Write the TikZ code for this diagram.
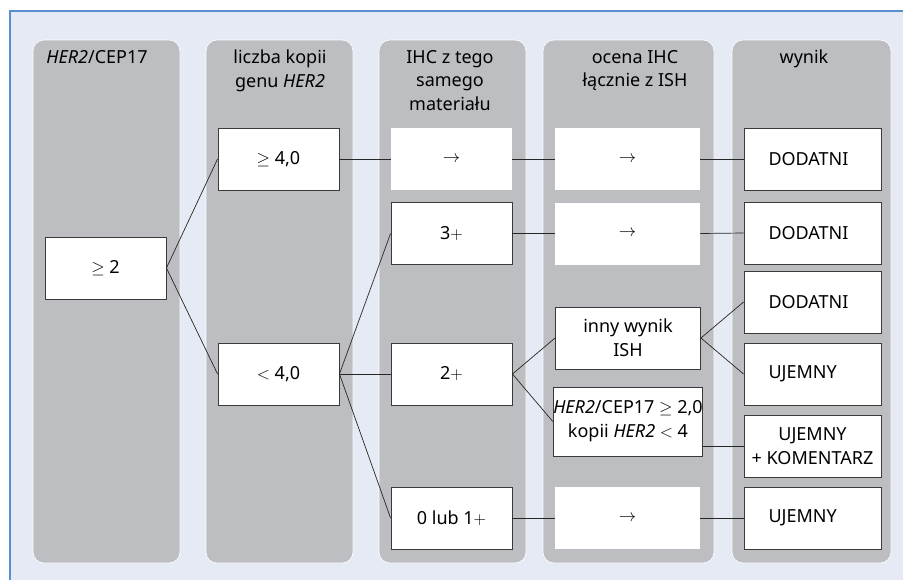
\documentclass[tikz,border=0pt]{standalone}
\usepackage{fontspec}
\setmainfont{Noto Sans}
\definecolor{panel}{HTML}{E6EAF5}
\definecolor{frameblue}{HTML}{5B8FD0}
\definecolor{colgray}{HTML}{BDBEC2}
\definecolor{boxline}{HTML}{3A3A3A}
\begin{document}
\begin{tikzpicture}[x=1pt,y=-1pt,
  column/.style={fill=colgray, draw=white, line width=0.6pt, rounded corners=11pt},
  head/.style={align=center, inner sep=0pt, font=\fontsize{18}{23.5}\selectfont},
  box/.style={draw=boxline, fill=white, line width=0.9pt, minimum height=62pt,
              inner sep=0pt, align=center, font=\fontsize{18}{24}\selectfont},
  plainbox/.style={box, draw=none},
  cbox/.style={box, minimum width=121pt},
  dbox/.style={box, minimum width=145pt},
  rbox/.style={box, minimum width=137pt},
  rlbox/.style={rbox, text width=88pt, align=flush left},
  link/.style={draw=black!85, line width=0.7pt}]
\useasboundingbox (0,0) rectangle (903,579);

% panel with blue rule on the left and top
\fill[panel] (10,11) rectangle (910,590);
\draw[frameblue, line width=1.3pt] (10,590) -- (10,11) -- (910,11);

% column backgrounds
\path[column] (33,40) rectangle (180,563);
\path[column] (206,40) rectangle (353,563);
\path[column] (379,40) rectangle (526,563);
\path[column] (543,40) rectangle (714,563);
\path[column] (732,40) rectangle (891,563);

% column headings
\node[head, anchor=north] (h1) at (97,50) {\textit{HER2}/CEP17};
\node[head, anchor=north] (h2) at (280,50) {liczba kopii\\genu \textit{HER2}};
\node[head, anchor=north] (h3) at (450,50) {IHC z tego\\samego\\materiału};
\node[head, anchor=north] (h4) at (635,50) {ocena IHC\\łącznie z ISH};
\node[head, anchor=north] (h5) at (804,50) {wynik};

% column 1
\node[cbox] (r) at (105.5,268) {$\geq$ 2};

% column 2
\node[cbox] (hi) at (278.5,159) {$\geq$ 4,0};
\node[cbox] (lo) at (278.5,374) {$<$ 4,0};

% column 3
\node[plainbox, minimum width=121pt] (c3a) at (451.5,159) {$\rightarrow$};
\node[cbox] (c3b) at (451.5,233.5) {3$+$};
\node[cbox] (c3c) at (451.5,374) {2$+$};
\node[cbox] (c3d) at (451.5,518) {0 lub 1$+$};

% column 4
\node[plainbox, minimum width=145pt] (c4a) at (627.5,159) {$\rightarrow$};
\node[plainbox, minimum width=145pt] (c4b) at (627.5,233.5) {$\rightarrow$};
\node[dbox] (c4c) at (628,338) {inny wynik\\ISH};
\node[dbox, minimum height=69pt] (c4d) at (628,421.5) {\textit{HER2}/CEP17 $\geq$ 2,0\\kopii \textit{HER2} $<$ 4};
\node[plainbox, minimum width=145pt] (c4e) at (627.5,518) {$\rightarrow$};

% column 5
\node[rlbox] (p1) at (812.5,159) {DODATNI};
\node[rlbox] (p2) at (812.5,233) {DODATNI};
\node[rlbox] (p3) at (812.5,302) {DODATNI};
\node[rlbox] (n1) at (812.5,374) {UJEMNY};
\node[rbox] (n2) at (812.5,446.5) {UJEMNY\\+ KOMENTARZ};
\node[rlbox] (n3) at (812.5,518) {UJEMNY};

% connectors
\draw[link] (r.east) -- (hi.west);
\draw[link] (r.east) -- (lo.west);
\draw[link] (hi.east) -- (c3a.west);
\draw[link] (c3a.east) -- (c4a.west);
\draw[link] (c4a.east) -- (p1.west);
\draw[link] (lo.east) -- (c3b.west);
\draw[link] (lo.east) -- (c3c.west);
\draw[link] (lo.east) -- (c3d.west);
\draw[link] (c3b.east) -- (c4b.west);
\draw[link] (c4b.east) -- (p2.west);
\draw[link] (c3c.east) -- (c4c.west);
\draw[link] (c3c.east) -- (c4d.west);
\draw[link] (c4c.east) -- (p3.west);
\draw[link] (c4c.east) -- (n1.west);
\draw[link] (c4d.east |- n2.west) -- (n2.west);
\draw[link] (c3d.east) -- (c4e.west);
\draw[link] (c4e.east) -- (n3.west);
\end{tikzpicture}
\end{document}
